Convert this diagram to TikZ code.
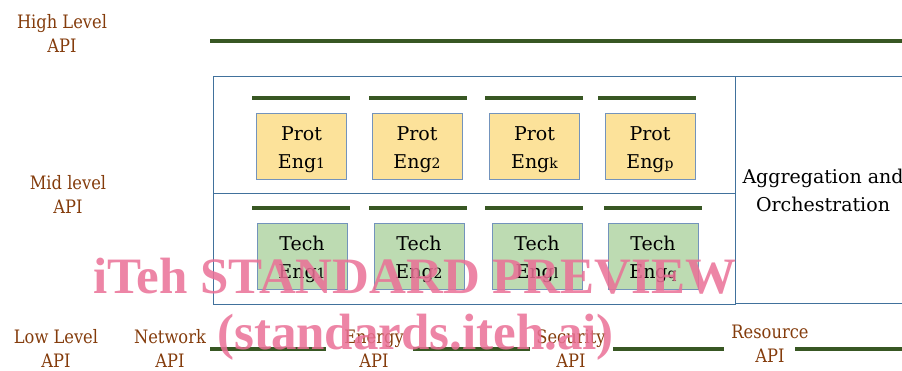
\documentclass[tikz,border=0pt]{standalone}
\usepackage{fontspec}
\setmainfont{DejaVu Serif}
\newfontfamily\lblfont[FakeStretch=0.88]{DejaVu Serif}
\newfontfamily\wmfont{Liberation Serif}
\definecolor{lblcol}{HTML}{843C0C}
\definecolor{barcol}{HTML}{385723}
\definecolor{framecol}{HTML}{41719C}
\definecolor{boxline}{HTML}{7393BC}
\definecolor{protfill}{HTML}{FCE29A}
\definecolor{techfill}{HTML}{BDDBB2}
\definecolor{wmcol}{RGB}{234,112,150}
\newcommand{\sbs}[1]{{\fontsize{14}{14}\selectfont #1}}
\newcommand{\engtxt}[2]{\rule{0pt}{22pt}#1\\Eng\sbs{#2}}
\begin{document}
\begin{tikzpicture}[x=1pt,y=-1pt,
  apilbl/.style={text=lblcol, align=center, inner sep=0pt, font=\lblfont\fontsize{18.5}{24}\selectfont},
  engbox/.style={draw=boxline, line width=0.8pt, minimum width=90pt, minimum height=66pt, inner sep=0pt, align=center, font=\fontsize{19}{28}\selectfont},
  protbox/.style={engbox, fill=protfill},
  techbox/.style={engbox, fill=techfill},
  bar/.style={draw=barcol, line width=3.6pt},
  frame/.style={draw=framecol, line width=0.9pt},
  wm/.style={text=wmcol, opacity=0.85, inner sep=0pt, font=\wmfont\bfseries\fontsize{51}{56}\selectfont}
]
\useasboundingbox (0,0) rectangle (902,370);

% API labels
\node[apilbl] (high) at (62,33) {High Level\\API};
\node[apilbl] (mid) at (68,194) {Mid level\\API};
\node[apilbl] (low) at (56,348) {Low Level\\API};
\node[apilbl] (net) at (170,348) {Network\\API};
\node[apilbl] (energy) at (374,349) {Energy\\API};
\node[apilbl] (sec) at (571,349) {Security\\API};
\node[apilbl] (res) at (770,344) {Resource\\API};

% high level bar
\draw[bar] (210,41) -- (902,41);

% frames
\draw[frame] (213,76) rectangle (735,304);
\draw[frame] (213,193) -- (735,193);
\draw[frame] (902,76) -- (735,76) -- (735,303) -- (902,303);
\node[align=center, inner sep=0pt, font=\fontsize{19}{28}\selectfont] (agg) at (823,190) {Aggregation and\\Orchestration};

% protocol bars and boxes
\draw[bar] (252,98) -- (350,98);
\draw[bar] (369,98) -- (467,98);
\draw[bar] (485,98) -- (583,98);
\draw[bar] (598,98) -- (696,98);
\node[protbox] (p1) at (301.5,146) {\engtxt{Prot}{1}};
\node[protbox] (p2) at (417,146) {\engtxt{Prot}{2}};
\node[protbox] (pk) at (534.5,146) {\engtxt{Prot}{k}};
\node[protbox] (pp) at (650,146) {\engtxt{Prot}{p}};

% technology bars and boxes
\draw[bar] (252,208) -- (350,208);
\draw[bar] (369,208) -- (467,208);
\draw[bar] (485,208) -- (583,208);
\draw[bar] (604,208) -- (702,208);
\node[techbox] (t1) at (302,256) {\engtxt{Tech}{1}};
\node[techbox] (t2) at (419,256) {\engtxt{Tech}{2}};
\node[techbox] (tl) at (537,256) {\engtxt{Tech}{l}};
\node[techbox] (tq) at (653,256) {\engtxt{Tech}{q}};

% low level bars
\draw[bar] (210,349) -- (326,349);
\draw[bar] (413,349) -- (530,349);
\draw[bar] (613,349) -- (724,349);
\draw[bar] (795,349) -- (902,349);

% watermark
\node[wm, anchor=base west] (wm1) at (93,293) {iTeh STANDARD PREVIEW};
\node[wm, anchor=base west] (wm2) at (217,349) {(standards.iteh.ai)};
\end{tikzpicture}
\end{document}
